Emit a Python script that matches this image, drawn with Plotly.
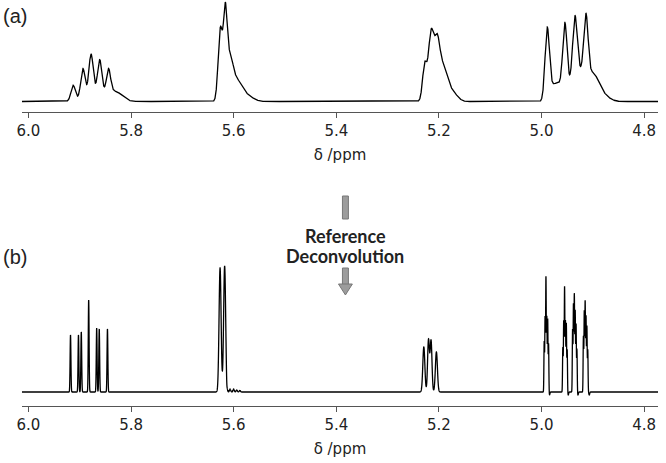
import numpy as np
import plotly.graph_objects as go

W, H = 666, 463

# chemical shift axis (ppm)
TICKS = [6.0, 5.8, 5.6, 5.4, 5.2, 5.0, 4.8]
X_RANGE = [6.0128, 4.7729]

# (a) measured spectrum: line positions (ppm), heights, gaussian widths (ppm)
A_POS = [5.913, 5.894, 5.878, 5.861, 5.844, 5.872, 5.830,
         5.626, 5.6165, 5.608, 5.595, 5.575,
         5.228, 5.2155, 5.2035, 5.210, 5.192, 5.175,
         4.989, 4.978, 4.965, 4.9545, 4.935, 4.9135, 4.930, 4.900, 4.884]
A_HGT = [15, 27, 37, 32, 24, 11, 9,
         72, 78, 38, 20, 6,
         33, 52, 38, 20, 30, 10,
         69, 14, 12, 68, 56, 63, 32, 22, 8]
A_WID = [0.0040, 0.0040, 0.0040, 0.0040, 0.0040, 0.020, 0.013,
         0.0042, 0.0035, 0.006, 0.010, 0.012,
         0.0040, 0.0050, 0.0050, 0.010, 0.008, 0.010,
         0.0042, 0.008, 0.007, 0.0042, 0.0042, 0.0042, 0.014, 0.010, 0.013]

# (b) after reference deconvolution
B_POS = [5.918, 5.9025, 5.897, 5.8826, 5.867, 5.862, 5.846,
         5.6265, 5.6176, 5.6135, 5.607, 5.600, 5.594, 5.588,
         5.2294, 5.2203, 5.2153, 5.2049,
         4.9948, 4.9931, 4.9914, 4.9897, 4.9880, 4.9863,
         4.9585, 4.9568, 4.9551, 4.9534, 4.9517, 4.9500,
         4.9395, 4.9378, 4.9361, 4.9344, 4.9327, 4.9310,
         4.9184, 4.9167, 4.9150, 4.9133, 4.9116, 4.9099,
         4.9845, 4.9480, 4.9290, 4.9070]
B_HGT = [57, 57, 60, 92, 64, 63, 63,
         124, 126, -5, 3, 3, 2, 1.5,
         45, 52, 51, 40,
         50, 74, 114, 74, 72, 48,
         44, 70, 104, 70, 68, 42,
         62, 87, 97, 80, 67, 42,
         55, 80, 90, 75, 65, 42,
         -3, -3, -3, -3]
B_WID = [0.0008, 0.0008, 0.0008, 0.0008, 0.0008, 0.0008, 0.0008,
         0.0020, 0.0020, 0.0006, 0.0012, 0.0012, 0.0012, 0.0012,
         0.0020, 0.0018, 0.0018, 0.0020] + [0.00057] * 24 + [0.0008] * 4

ppm = np.linspace(X_RANGE[0], X_RANGE[1], 14000)


def spectrum(pos, hgt, wid):
    y = np.zeros_like(ppm)
    for p, h, w in zip(pos, hgt, wid):
        y += h * np.exp(-0.5 * ((ppm - p) / w) ** 2)
    return y


def px(x, y):
    # pixel -> paper coordinates
    return x / W, 1 - y / H


fig = go.Figure()
fig.add_trace(go.Scatter(x=ppm, y=spectrum(A_POS, A_HGT, A_WID), mode='lines',
                         line=dict(color='black', width=1.3), xaxis='x', yaxis='y'))
fig.add_trace(go.Scatter(x=ppm, y=spectrum(B_POS, B_HGT, B_WID), mode='lines',
                         line=dict(color='black', width=1.3, simplify=False),
                         xaxis='x2', yaxis='y2'))

axis_style = dict(
    domain=[17 / W, 658 / W], range=X_RANGE, tickvals=TICKS,
    ticktext=['%.1f' % t for t in TICKS],
    showline=True, linecolor='#555', linewidth=1, ticks='outside',
    ticklen=5, tickcolor='#555', showgrid=False, zeroline=False,
    tickfont=dict(family='DejaVu Sans', size=15, color='#222'),
    title=dict(text='δ /ppm', font=dict(family='DejaVu Sans', size=15, color='#222'),
               standoff=10),
)
fig.update_layout(
    width=W, height=H, margin=dict(l=0, r=0, t=0, b=0),
    plot_bgcolor='white', paper_bgcolor='white', showlegend=False,
    xaxis=dict(anchor='y', **axis_style),
    xaxis2=dict(anchor='y2', **axis_style),
    yaxis=dict(domain=[1 - 112 / H, 1], range=[-10.5, 101.5], visible=False),
    yaxis2=dict(domain=[1 - 406 / H, 1 - 240 / H], range=[-14, 152], visible=False),
)

# panel labels
for lab, yy in (('(a)', 16), ('(b)', 257)):
    fig.add_annotation(text=lab, xref='paper', yref='paper', x=-4 / W, y=px(0, yy)[1],
                       xanchor='left', yanchor='middle', showarrow=False,
                       font=dict(family='Liberation Sans', size=20, color='#222'))

for txt, yy in (('Reference', 236), ('Deconvolution', 256)):
    fig.add_annotation(text='<b>%s</b>' % txt, xref='paper', yref='paper',
                       x=px(343, 0)[0], y=px(0, yy)[1], xanchor='center', yanchor='middle',
                       showarrow=False, font=dict(family='Lato', size=18, color='#222'))

# broken arrow between the panels
gray = dict(fillcolor='#9c9c9c', line=dict(color='#777', width=1), layer='above')
x0, y0 = px(340, 196)
x1, y1 = px(346, 219)
fig.add_shape(type='rect', xref='paper', yref='paper', x0=x0, y0=y0, x1=x1, y1=y1, **gray)
x0, y0 = px(340, 268)
x1, y1 = px(346, 285)
fig.add_shape(type='rect', xref='paper', yref='paper', x0=x0, y0=y0, x1=x1, y1=y1, **gray)
a = px(336, 284)
b = px(350, 284)
c = px(343, 295)
fig.add_shape(type='path', xref='paper', yref='paper',
              path='M %f %f L %f %f L %f %f Z' % (a[0], a[1], b[0], b[1], c[0], c[1]), **gray)

fig.write_html('out.html', config={'displayModeBar': False},
               post_script='document.body.style.margin = "0";')
